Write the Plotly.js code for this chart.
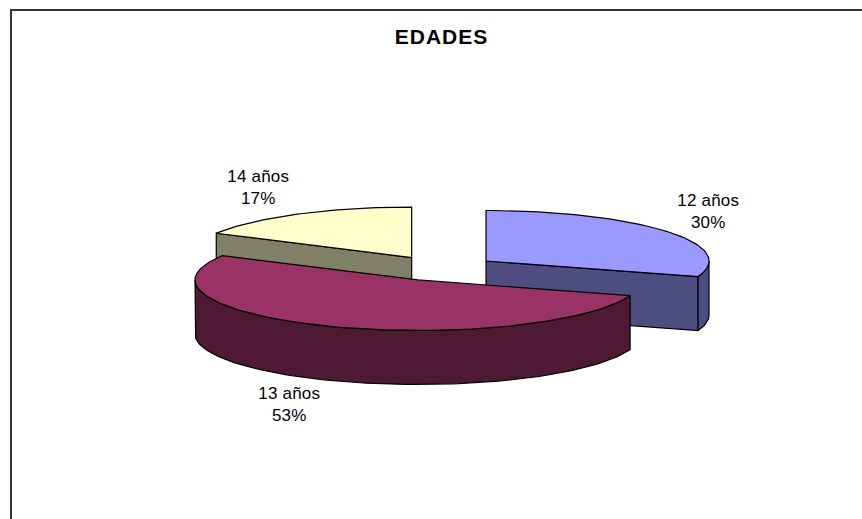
<!DOCTYPE html>
<html>
<head>
<meta charset="utf-8">
<script src="https://cdn.plot.ly/plotly-3.0.1.min.js"></script>
<style>
html,body{margin:0;padding:0;background:#fff;overflow:hidden}
#chart{width:862px;height:519px}
#chart .annotation-text{letter-spacing:.2px}
#chart .gtitle{letter-spacing:1px}
</style>
</head>
<body>
<div id="chart"></div>
<script>
// Data
const categories = ['12 años', '13 años', '14 años'];
const values = [30, 53, 17];
const chartTitle = 'EDADES';
const topColors = ['#9999FF', '#993366', '#FFFFCC'];
const sideColors = ['#4D4D80', '#4D1933', '#808066'];
// Label centres on the page, in the same order as the categories
const labelX = [708, 289, 258];
const labelY = [211.5, 404.5, 187];

// Projection of the tilted pie, in page pixels
const W = 862, H = 519;
const base = {x: 440.4, y: 268.4};
const rx = 223, ry = 50.5, depth = 54;
const explodeX = 56.4, explodeY = 12.6;

const total = values.reduce((a, b) => a + b, 0);
const rad = d => d * Math.PI / 180;
const pt = (c, deg, dz) => ({x: c.x + rx * Math.sin(rad(deg)), y: c.y - ry * Math.cos(rad(deg)) + (dz || 0)});

function arc(c, from, to, dz) {
  const pts = [];
  const n = Math.max(2, Math.ceil(Math.abs(to - from) / 1.5));
  for (let i = 0; i <= n; i++) pts.push(pt(c, from + (to - from) * i / n, dz));
  return pts;
}
function poly(pts, color, name) {
  const closed = pts.concat([pts[0]]);
  return {
    type: 'scatter', mode: 'lines', fill: 'toself', fillcolor: color, name: name,
    x: closed.map(p => p.x), y: closed.map(p => p.y),
    line: {color: '#000', width: 1.2}, hoverinfo: 'skip', showlegend: false
  };
}

let start = 0;
const slices = values.map((v, i) => {
  const sweep = v / total * 360, s = start, e = start + sweep;
  start = e;
  const mid = rad((s + e) / 2);
  return {i, s, e, c: {x: base.x + explodeX * Math.sin(mid), y: base.y - explodeY * Math.cos(mid)}};
});

const traces = [];
// Back slices first, the large front slice last
[2, 0, 1].forEach(i => {
  const {s, e, c} = slices[i];
  const name = categories[i];
  const under = {x: c.x, y: c.y + depth};
  if (Math.sin(rad(s)) < -1e-6) traces.push(poly([c, pt(c, s), pt(c, s, depth), under], sideColors[i], name));
  if (Math.sin(rad(e)) > 1e-6) traces.push(poly([c, pt(c, e), pt(c, e, depth), under], sideColors[i], name));
  const a = Math.max(s, 90), b = Math.min(e, 270);
  if (b > a) traces.push(poly(arc(c, a, b, 0).concat(arc(c, b, a, depth)), sideColors[i], name));
  traces.push(poly([c].concat(arc(c, s, e, 0)), topColors[i], name));
});

// Frame: top and left edges only, the rest runs off the page
traces.push({
  type: 'scatter', mode: 'lines', x: [11, 11, W], y: [H, 10, 10],
  line: {color: '#333', width: 2}, hoverinfo: 'skip', showlegend: false
});

const annotations = categories.map((c, i) => ({
  x: labelX[i], y: labelY[i], xref: 'x', yref: 'y',
  text: c + '<br>' + Math.round(values[i] / total * 100) + '%',
  showarrow: false, xanchor: 'center', yanchor: 'middle', align: 'center',
  font: {family: '"Liberation Sans", Arial, sans-serif', size: 17, color: '#000'}
}));

Plotly.newPlot('chart', traces, {
  width: W, height: H,
  margin: {l: 0, r: 0, t: 0, b: 0},
  paper_bgcolor: '#fff', plot_bgcolor: '#fff',
  showlegend: false,
  title: {
    text: '<b>' + chartTitle + '</b>',
    x: 441.5 / W, xanchor: 'center', xref: 'paper',
    y: 1 - 37 / H, yanchor: 'middle', yref: 'container',
    font: {family: '"Liberation Sans", Arial, sans-serif', size: 21, color: '#000'}
  },
  xaxis: {range: [0, W], visible: false, fixedrange: true},
  yaxis: {range: [H, 0], visible: false, fixedrange: true},
  annotations: annotations
}, {displayModeBar: false, staticPlot: true});
</script>
</body>
</html>
